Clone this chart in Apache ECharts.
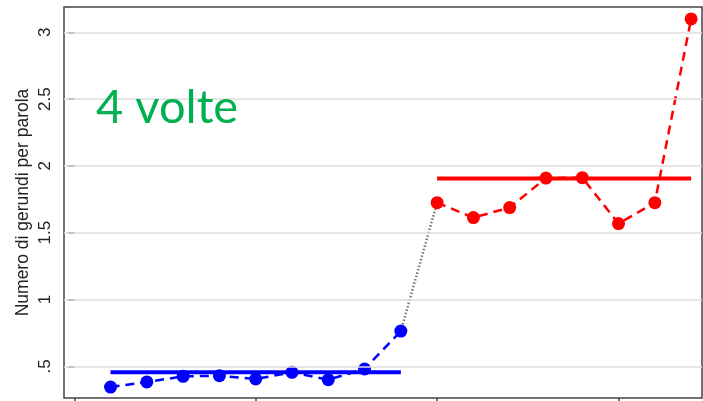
<!DOCTYPE html>
<html>
<head>
<meta charset="utf-8">
<script src="https://cdn.jsdelivr.net/npm/echarts@6/dist/echarts.min.js"></script>
<style>html,body{margin:0;padding:0;background:#fff}#c{width:703px;height:401px}</style>
</head>
<body>
<div id="c"></div>
<script>
var xBlue = [1, 2, 3, 4, 5, 6, 7, 8, 9];
var blueValues = [0.345, 0.383, 0.425, 0.43, 0.405, 0.455, 0.40, 0.48, 0.764];
var xRed = [10, 11, 12, 13, 14, 15, 16, 17];
var redValues = [1.725, 1.613, 1.688, 1.909, 1.912, 1.568, 1.725, 3.10];
var blueMean = 0.455;
var redMean = 1.905;
var yTicks = [0.5, 1, 1.5, 2, 2.5, 3];
var yTickLabels = ['.5', '1', '1.5', '2', '2.5', '3'];
var xTicks = [0, 5, 10, 15];
var yTitle = 'Numero di gerundi per parola';
var overlayText = '4 volte';

function pairs(xs, ys) { return xs.map(function (x, i) { return [x, ys[i]]; }); }

var chart = echarts.init(document.getElementById('c'), null, { renderer: 'canvas' });
var option = {
  animation: false,
  backgroundColor: '#fff',
  grid: { left: 64, right: 1, top: 7, bottom: 3, show: true, borderColor: '#444', borderWidth: 1.5, backgroundColor: 'transparent' },
  xAxis: {
    type: 'value', min: -0.283, max: 17.3,
    axisLine: { show: false },
    splitLine: { show: false },
    axisLabel: { show: false },
    axisTick: { show: true, customValues: xTicks, length: 6, inside: false, lineStyle: { color: '#444', width: 1.5 } }
  },
  yAxis: {
    type: 'value', min: 0.263, max: 3.189,
    name: yTitle, nameLocation: 'middle', nameGap: 32, nameRotate: 90, nameMoveOverlap: false,
    nameTextStyle: { fontFamily: 'Liberation Sans', fontSize: 17.5, color: '#222' },
    axisLine: { show: false },
    splitLine: { show: false },
    axisTick: { show: true, customValues: yTicks, length: 6, lineStyle: { color: '#444', width: 1.5 } },
    axisLabel: {
      customValues: yTicks, rotate: 90, margin: 10,
      fontFamily: 'Liberation Sans', fontSize: 17, color: '#222',
      formatter: function (v) { var i = yTicks.indexOf(v); return i >= 0 ? yTickLabels[i] : ''; }
    }
  },
  graphic: [{
    type: 'text', left: 96, top: 84, z: 100,
    style: { text: overlayText, fill: '#00B050', font: '47px Lato' }
  }],
  series: [
    {
      type: 'line', data: [], silent: true, symbol: 'none', z: 1,
      markLine: {
        silent: true, symbol: 'none', label: { show: false },
        lineStyle: { color: '#dcdcdc', width: 1.5, type: 'solid' },
        data: yTicks.map(function (v) { return { yAxis: v }; })
      }
    },
    {
      type: 'line', data: [[xBlue[xBlue.length - 1], blueValues[blueValues.length - 1]], [xRed[0], redValues[0]]],
      symbol: 'none', z: 2,
      lineStyle: { color: '#777', width: 2.5, type: [1.5, 2] }
    },
    {
      type: 'line', data: [[xBlue[0], blueMean], [xBlue[xBlue.length - 1], blueMean]],
      symbol: 'none', z: 3, lineStyle: { color: '#0000FF', width: 4 }
    },
    {
      type: 'line', data: [[xRed[0], redMean], [xRed[xRed.length - 1], redMean]],
      symbol: 'none', z: 3, lineStyle: { color: '#FF0000', width: 4 }
    },
    {
      type: 'line', data: pairs(xBlue, blueValues), z: 4,
      symbol: 'circle', symbolSize: 13,
      itemStyle: { color: '#0000FF' },
      lineStyle: { color: '#0000FF', width: 2.5, type: [9, 6] }
    },
    {
      type: 'line', data: pairs(xRed, redValues), z: 4,
      symbol: 'circle', symbolSize: 13,
      itemStyle: { color: '#FF0000' },
      lineStyle: { color: '#FF0000', width: 2.5, type: [9, 6] }
    }
  ]
};
chart.setOption(option);
</script>
</body>
</html>
